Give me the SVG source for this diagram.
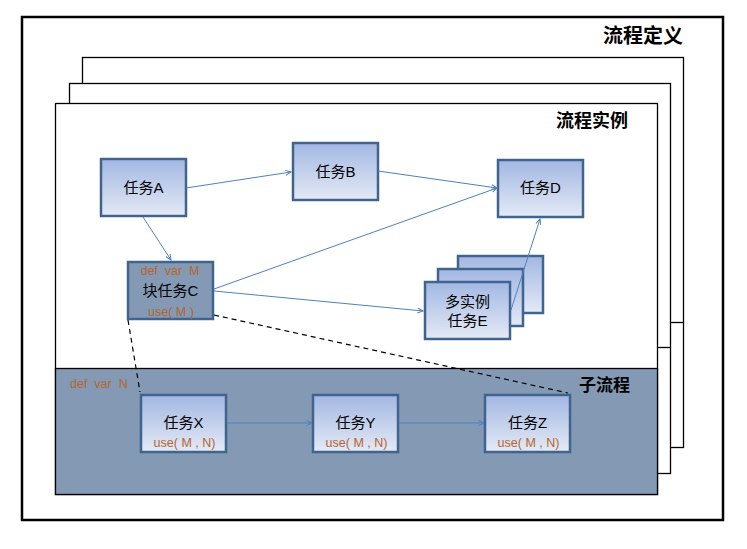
<svg xmlns="http://www.w3.org/2000/svg" width="747" height="549" viewBox="0 0 747 549">
<defs>
<linearGradient id="g" x1="0" y1="0" x2="0" y2="1">
<stop offset="0" stop-color="#A2B7E2"/>
<stop offset="1" stop-color="#E4EAF6"/>
</linearGradient>
<marker id="ar" markerUnits="userSpaceOnUse" markerWidth="8" markerHeight="8" refX="6" refY="3" orient="auto">
<path d="M0.5,0.5 L6,3 L0.5,5.5" fill="none" stroke="#4F81BD" stroke-width="1"/>
</marker>
</defs>
<style>
.page{fill:#fff;stroke:#000;stroke-width:1.3}
.task{fill:url(#g);stroke:#41648F;stroke-width:2.5}
.blk{fill:#8499B4;stroke:#41648F;stroke-width:2.5}
.t{font-family:"Liberation Sans","Noto Sans CJK SC",sans-serif;font-size:15px;fill:#000;text-anchor:middle}
.v{font-family:"Liberation Sans",sans-serif;font-size:12.5px;fill:#B5652E;text-anchor:middle;white-space:pre}
.h{font-family:"Noto Sans CJK SC",sans-serif;font-weight:bold;fill:#000;text-anchor:end}
.c{fill:none;stroke:#4F81BD;stroke-width:1;marker-end:url(#ar)}
.d{fill:none;stroke:#000;stroke-width:1.2;stroke-dasharray:5,4}
</style>
<rect x="0" y="0" width="747" height="549" fill="#fff"/>
<g id="process-definition">
<rect x="22" y="17" width="701" height="503" fill="#fff" stroke="#000" stroke-width="2.5"/>
<text class="h" x="683" y="43" font-size="20">流程定义</text>
</g>
<g id="pages">
<rect class="page" x="82.5" y="57.5" width="601" height="390"/>
<rect class="page" x="69.5" y="83.5" width="601" height="390"/>
<line x1="670.5" y1="322.5" x2="683.5" y2="322.5" stroke="#000" stroke-width="1.3"/>
<rect class="page" x="55.5" y="103.5" width="602" height="391"/>
<line x1="657.5" y1="347.5" x2="670.5" y2="347.5" stroke="#000" stroke-width="1.3"/>
<text class="h" x="628" y="127" font-size="18">流程实例</text>
</g>
<g id="subprocess">
<rect x="55.5" y="368.5" width="602" height="126" fill="#8499B4" stroke="#000" stroke-width="1.3"/>
<text x="70" y="387.5" xml:space="preserve" style="font-family:'Liberation Sans',sans-serif;font-size:12.5px;fill:#B5652E;white-space:pre">def  var  N</text>
<text class="h" x="630" y="391" font-size="17">子流程</text>
</g>
<g id="taskA">
<rect class="task" x="101" y="159" width="85" height="57"/>
<text class="t" x="143.5" y="193">任务A</text>
</g>
<g id="taskB">
<rect class="task" x="293" y="143" width="85" height="57"/>
<text class="t" x="335.5" y="177">任务B</text>
</g>
<g id="taskD">
<rect class="task" x="498" y="160" width="85" height="57"/>
<text class="t" x="540.5" y="193">任务D</text>
</g>
<g id="taskC">
<rect class="blk" x="128" y="262" width="85" height="57"/>
<text class="v" x="170" y="275" xml:space="preserve">def  var  M</text>
<text class="t" x="170.5" y="296">块任务C</text>
<text class="v" x="171" y="315.5" xml:space="preserve">use( M )</text>
</g>
<g id="taskE">
<rect class="task" x="458" y="256" width="85" height="57"/>
<rect class="task" x="438" y="269" width="85" height="57"/>
<rect class="task" x="425" y="282" width="85" height="57"/>
<text class="t" x="467.5" y="307">多实例</text>
<text class="t" x="467.5" y="326">任务E</text>
</g>
<g id="taskX">
<rect class="task" x="141" y="395" width="85" height="57"/>
<text class="t" x="183.5" y="428">任务X</text>
<text class="v" x="184.5" y="447" xml:space="preserve">use( M , N)</text>
</g>
<g id="taskY">
<rect class="task" x="313" y="395" width="85" height="57"/>
<text class="t" x="355.5" y="428">任务Y</text>
<text class="v" x="356.5" y="447" xml:space="preserve">use( M , N)</text>
</g>
<g id="taskZ">
<rect class="task" x="485" y="395" width="85" height="57"/>
<text class="t" x="527.5" y="428">任务Z</text>
<text class="v" x="528.5" y="447" xml:space="preserve">use( M , N)</text>
</g>
<g id="connectors">
<line class="c" x1="186" y1="188" x2="291" y2="172"/>
<line class="c" x1="143" y1="217" x2="171" y2="260"/>
<line class="c" x1="378" y1="171" x2="497" y2="188"/>
<line class="c" x1="214" y1="289" x2="497" y2="188"/>
<line class="c" x1="214" y1="291" x2="423" y2="311"/>
<line class="c" x1="511" y1="310" x2="540" y2="219"/>
<line class="c" x1="227" y1="423" x2="312" y2="423" stroke="#41648F"/>
<line class="c" x1="399" y1="423" x2="484" y2="423" stroke="#41648F"/>
<line class="d" x1="128" y1="320" x2="140" y2="392"/>
<line class="d" x1="214" y1="315" x2="568" y2="393"/>
</g>
</svg>
